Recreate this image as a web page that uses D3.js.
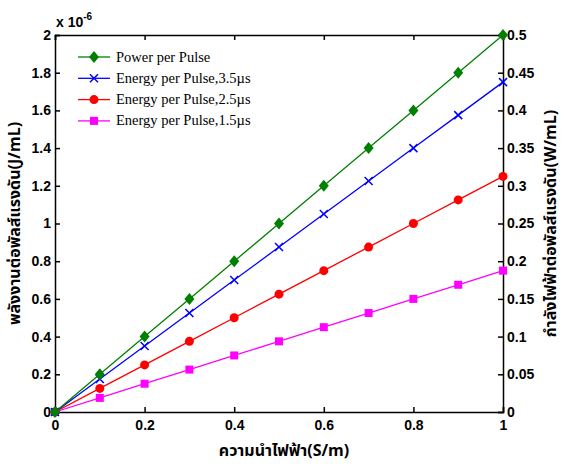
<!DOCTYPE html>
<html>
<head>
<meta charset="utf-8">
<script src="https://cdn.jsdelivr.net/npm/d3@7"></script>
<style>
  body { margin: 0; background: #fff; }
  .tick text { font-family: "Liberation Sans", Arial, sans-serif; font-weight: bold; font-size: 14px; }
</style>
</head>
<body>
<div id="chart"></div>
<script>
// Data
var conductivity = [0, 0.1, 0.2, 0.3, 0.4, 0.5, 0.6, 0.7, 0.8, 0.9, 1.0];
var powerPerPulse = [0, 0.05, 0.10, 0.15, 0.20, 0.25, 0.30, 0.35, 0.40, 0.45, 0.50];        // W/mL (right axis)
var energy35 = [0, 0.175, 0.35, 0.525, 0.70, 0.875, 1.05, 1.225, 1.40, 1.575, 1.75];        // x1e-6 J/mL
var energy25 = [0, 0.125, 0.25, 0.375, 0.50, 0.625, 0.75, 0.875, 1.00, 1.125, 1.25];
var energy15 = [0, 0.075, 0.15, 0.225, 0.30, 0.375, 0.45, 0.525, 0.60, 0.675, 0.75];
var leftTicks = [0, 0.2, 0.4, 0.6, 0.8, 1, 1.2, 1.4, 1.6, 1.8, 2];
var rightTicks = [0, 0.05, 0.1, 0.15, 0.2, 0.25, 0.3, 0.35, 0.4, 0.45, 0.5];
var xTicks = [0, 0.2, 0.4, 0.6, 0.8, 1];

var svgWidth = 565;
var svgHeight = 464;
var margin = { top: 35, right: 62, bottom: 52, left: 55 };
var chartWidth = svgWidth - margin.left - margin.right;
var chartHeight = svgHeight - margin.top - margin.bottom;

var svg = d3.select("#chart").append("svg")
    .attr("width", svgWidth)
    .attr("height", svgHeight);

var chartGroup = svg.append("g")
    .attr("transform", `translate(${margin.left}, ${margin.top})`);

var xScale = d3.scaleLinear().domain([0, 1]).range([0, chartWidth]);
var yLeft = d3.scaleLinear().domain([0, 2]).range([chartHeight, 0]);
var yRight = d3.scaleLinear().domain([0, 0.5]).range([chartHeight, 0]);

// Axes (ticks inward, matlab style)
var xAxis = d3.axisBottom(xScale).tickValues(xTicks).tickFormat(d3.format("")).tickSize(-5).tickPadding(8);
var xTop = d3.axisTop(xScale).tickValues(xTicks).tickFormat("").tickSize(-5);
var yAxisL = d3.axisLeft(yLeft).tickValues(leftTicks).tickFormat(d3.format("")).tickSize(-5).tickPadding(4);
var yAxisR = d3.axisRight(yRight).tickValues(rightTicks).tickFormat(d3.format("")).tickSize(-5).tickPadding(4);

function styleAxis(g) {
    g.selectAll("path, line").attr("stroke", "#000").attr("stroke-width", 1.5);
    g.selectAll(".tick text").attr("fill", "#000");
}

chartGroup.append("g").attr("transform", `translate(0, ${chartHeight})`).call(xAxis).call(styleAxis);
chartGroup.append("g").call(xTop).call(styleAxis);
chartGroup.append("g").call(yAxisL).call(styleAxis);
chartGroup.append("g").attr("transform", `translate(${chartWidth}, 0)`).call(yAxisR).call(styleAxis);

// series
var series = [
    { name: "Power per Pulse", values: powerPerPulse, scale: yRight, color: "#008000", marker: "diamond" },
    { name: "Energy per Pulse,3.5\u00b5s", values: energy35, scale: yLeft, color: "#0000ff", marker: "cross" },
    { name: "Energy per Pulse,2.5\u00b5s", values: energy25, scale: yLeft, color: "#ff0000", marker: "circle" },
    { name: "Energy per Pulse,1.5\u00b5s", values: energy15, scale: yLeft, color: "#ff00ff", marker: "square" }
];

function drawMarker(g, type, color) {
    if (type === "diamond") {
        g.append("path").attr("d", "M0,-6L5,0L0,6L-5,0Z").attr("fill", color);
    } else if (type === "cross") {
        g.append("path").attr("d", "M-4,-4L4,4M-4,4L4,-4").attr("stroke", color).attr("stroke-width", 1.5).attr("fill", "none");
    } else if (type === "circle") {
        g.append("circle").attr("r", 4.5).attr("fill", color);
    } else {
        g.append("rect").attr("x", -4).attr("y", -4).attr("width", 8).attr("height", 8).attr("fill", color);
    }
}

// draw in reverse so green ends on top
series.slice().reverse().forEach(function(s) {
    var line = d3.line()
        .x((d, i) => xScale(conductivity[i]))
        .y(d => s.scale(d));
    chartGroup.append("path")
        .datum(s.values)
        .attr("d", line)
        .attr("fill", "none")
        .attr("stroke", s.color)
        .attr("stroke-width", 1.3);
    s.values.forEach(function(v, i) {
        var mg = chartGroup.append("g")
            .attr("transform", `translate(${xScale(conductivity[i])}, ${s.scale(v)})`);
        drawMarker(mg, s.marker, s.color);
    });
});

// Legend
var legend = chartGroup.append("g").attr("transform", "translate(23, 22)");
series.forEach(function(s, i) {
    var row = legend.append("g").attr("transform", `translate(0, ${i * 21.3})`);
    row.append("line").attr("x1", 0).attr("x2", 32).attr("y1", 0).attr("y2", 0)
        .attr("stroke", s.color).attr("stroke-width", 1.3);
    var mg = row.append("g").attr("transform", "translate(16, 0)");
    drawMarker(mg, s.marker, s.color);
    row.append("text")
        .attr("x", 38).attr("y", 4.5)
        .attr("font-family", "'Liberation Serif', 'Times New Roman', serif")
        .attr("font-size", "14.5px")
        .text(s.name);
});

// exponent label
var expText = svg.append("text")
    .attr("x", 56).attr("y", 27)
    .attr("font-family", "'Liberation Sans', Arial, sans-serif")
    .attr("font-weight", "bold")
    .attr("font-size", "14px")
    .text("x 10");
expText.append("tspan").attr("dy", -7).attr("font-size", "10px").text("-6");

// axis titles
var thaiFont = "'Noto Sans Thai', 'Noto Serif Thai', Tahoma, 'Liberation Serif', serif";
svg.append("text")
    .attr("x", margin.left + chartWidth / 2 + 5)
    .attr("y", 456)
    .attr("text-anchor", "middle")
    .attr("font-family", thaiFont)
    .attr("font-weight", "bold")
    .attr("font-size", "16px")
    .text("ความนำไฟฟ้า(S/m)");

svg.append("text")
    .attr("transform", `translate(20, ${margin.top + chartHeight / 2}) rotate(-90)`)
    .attr("text-anchor", "middle")
    .attr("font-family", thaiFont)
    .attr("font-weight", "bold")
    .attr("font-size", "16px")
    .text("พลังงานต่อพัลส์แรงดัน(J/mL)");

svg.append("text")
    .attr("transform", `translate(556, ${margin.top + chartHeight / 2}) rotate(-90)`)
    .attr("text-anchor", "middle")
    .attr("font-family", thaiFont)
    .attr("font-weight", "bold")
    .attr("font-size", "16px")
    .text("กำลังไฟฟ้าต่อพัลส์แรงดัน(W/mL)");
</script>
</body>
</html>
